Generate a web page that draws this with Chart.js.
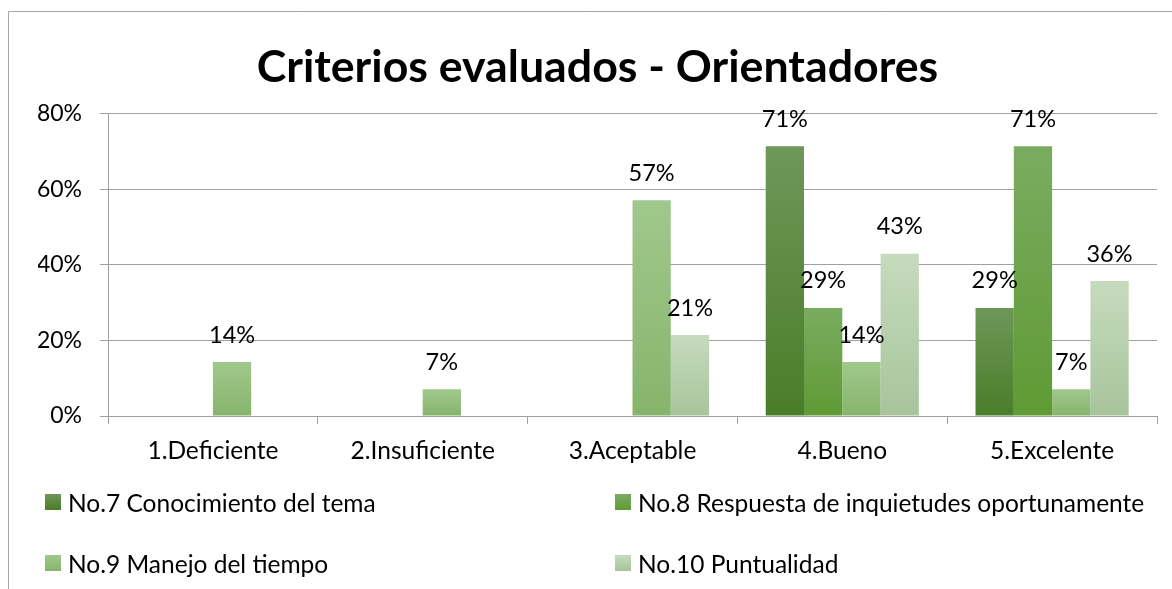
<!DOCTYPE html>
<html>
<head>
<meta charset="utf-8">
<script src="https://cdn.jsdelivr.net/npm/chart.js@4.4.1/dist/chart.umd.min.js"></script>
<style>
  html, body { margin: 0; padding: 0; background: #ffffff; }
  #wrap { position: relative; width: 1172px; height: 589px; overflow: hidden; }
  #legend { position: absolute; left: 0; top: 0; width: 1172px; height: 589px; pointer-events: none;
            font-family: Lato, "Open Sans", sans-serif; font-size: 24.5px; color: #000; }
  .li { position: absolute; display: flex; align-items: center; white-space: nowrap; height: 30px; }
  .sw { width: 16px; height: 16px; margin-right: 7px; flex: none; }
</style>
</head>
<body>
<div id="wrap">
  <canvas id="c" width="1172" height="589"></canvas>
  <div id="legend"></div>
</div>
<script>
const categories = ["1.Deficiente", "2.Insuficiente", "3.Aceptable", "4.Bueno", "5.Excelente"];
const seriesNames = ["No.7 Conocimiento del tema", "No.8 Respuesta de inquietudes oportunamente", "No.9 Manejo del tiempo", "No.10 Puntualidad"];
const s7 = [0, 0, 0, 0.714, 0.286];
const s8 = [0, 0, 0, 0.286, 0.714];
const s9 = [0.143, 0.071, 0.571, 0.143, 0.071];
const s10 = [0, 0, 0.214, 0.429, 0.357];
const yTicks = [0, 0.2, 0.4, 0.6, 0.8];
const titleText = "Criterios evaluados - Orientadores";

const gradTop = ["#6e975a", "#7aac60", "#a0c88c", "#c6dbbd"];
const gradBottom = ["#4a7d28", "#5f9a34", "#86b46c", "#a8c49c"];

function barGradient(i) {
  return function (ctx) {
    const chart = ctx.chart;
    const ys = chart.scales && chart.scales.y;
    if (!chart.chartArea || !ys || ctx.raw == null) return gradBottom[i];
    const top = ys.getPixelForValue(ctx.raw);
    const bottom = ys.getPixelForValue(0);
    if (!isFinite(top) || !isFinite(bottom) || bottom - top < 1) return gradBottom[i];
    const g = chart.ctx.createLinearGradient(0, top, 0, bottom);
    g.addColorStop(0, gradTop[i]);
    g.addColorStop(1, gradBottom[i]);
    return g;
  };
}

const allSeries = [s7, s8, s9, s10];
const datasets = allSeries.map((d, i) => ({
  label: seriesNames[i],
  data: d,
  backgroundColor: barGradient(i),
  borderWidth: 0,
  categoryPercentage: 0.73,
  barPercentage: 1.0
}));

const framePlugin = {
  id: 'frame',
  beforeDraw(chart) {
    const c = chart.ctx;
    c.save();
    c.fillStyle = '#ffffff';
    c.fillRect(0, 0, chart.width, chart.height);
    c.strokeStyle = '#a6a6a6';
    c.lineWidth = 1;
    c.beginPath();
    c.moveTo(8.5, chart.height + 2);
    c.lineTo(8.5, 11.5);
    c.lineTo(chart.width + 2, 11.5);
    c.stroke();
    c.restore();
  }
};

const labelPlugin = {
  id: 'valueLabels',
  afterDatasetsDraw(chart) {
    const c = chart.ctx;
    c.save();
    c.font = '23.5px Lato, "Open Sans", sans-serif';
    c.fillStyle = '#000000';
    c.textAlign = 'center';
    c.textBaseline = 'middle';
    chart.data.datasets.forEach((ds, di) => {
      const meta = chart.getDatasetMeta(di);
      meta.data.forEach((bar, j) => {
        const v = ds.data[j];
        if (!v) return;
        c.fillText(Math.round(v * 100) + '%', bar.x, bar.y - 27);
      });
    });
    c.restore();
  }
};

const chart = new Chart(document.getElementById('c'), {
  type: 'bar',
  data: { labels: categories, datasets: datasets },
  options: {
    responsive: false,
    animation: false,
    layout: { padding: { left: 38, right: 15, top: 0, bottom: 113 } },
    plugins: {
      legend: { display: false },
      tooltip: { enabled: false },
      title: {
        display: true,
        text: titleText,
        color: '#000000',
        font: { family: 'Lato, "Open Sans", sans-serif', size: 44.7, weight: 'bold', lineHeight: 1.2 },
        padding: { top: 41, bottom: 19 }
      }
    },
    scales: {
      x: {
        grid: { drawOnChartArea: false, drawTicks: true, tickLength: 8, color: '#a0a0a0', offset: true },
        border: { display: true, color: '#a0a0a0' },
        ticks: { color: '#000000', font: { family: 'Lato, "Open Sans", sans-serif', size: 24.5 }, padding: 12, maxRotation: 0 },
        afterFit(scale) { scale.height = 60; }
      },
      y: {
        min: 0,
        max: 0.8,
        afterBuildTicks(scale) { scale.ticks = yTicks.map(v => ({ value: v })); },
        grid: { drawOnChartArea: true, drawTicks: true, tickLength: 8, color: '#a0a0a0' },
        border: { display: true, color: '#a0a0a0' },
        ticks: {
          color: '#000000',
          font: { family: 'Lato, "Open Sans", sans-serif', size: 23 },
          padding: 18,
          callback: v => Math.round(v * 100) + '%'
        },
        afterFit(scale) { scale.width = 70; }
      }
    }
  },
  plugins: [framePlugin, labelPlugin]
});

// HTML legend built from the chart's datasets
const legendPos = [
  { x: 45, y: 502 }, { x: 615, y: 502 },
  { x: 45, y: 563 }, { x: 615, y: 563 }
];
const legendEl = document.getElementById('legend');
chart.data.datasets.forEach((ds, i) => {
  const item = document.createElement('div');
  item.className = 'li';
  item.style.left = legendPos[i].x + 'px';
  item.style.top = (legendPos[i].y - 15) + 'px';
  const sw = document.createElement('span');
  sw.className = 'sw';
  sw.style.background = 'linear-gradient(to bottom, ' + gradTop[i] + ', ' + gradBottom[i] + ')';
  const tx = document.createElement('span');
  tx.textContent = ds.label;
  item.appendChild(sw);
  item.appendChild(tx);
  legendEl.appendChild(item);
});
</script>
</body>
</html>
